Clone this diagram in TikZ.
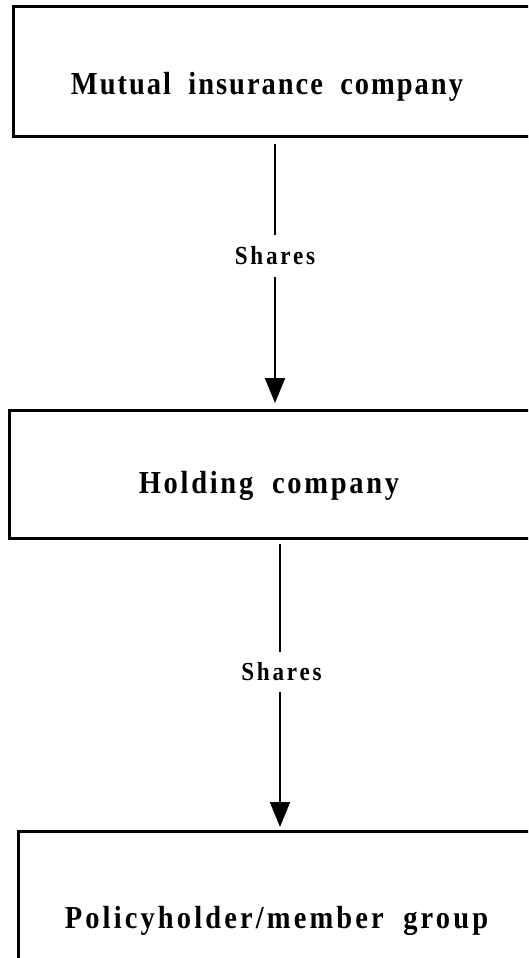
\documentclass[tikz,border=0pt]{standalone}
\usepackage{fontspec}
\setmainfont{Liberation Serif}
\newfontfamily\boxfont[LetterSpace=7,WordSpace=1.9]{Liberation Serif}
\newfontfamily\boxfontb[LetterSpace=9.6,WordSpace=1.9]{Liberation Serif}
\newfontfamily\boxfontc[LetterSpace=11,WordSpace=1.9]{Liberation Serif}
\newfontfamily\lblfont[LetterSpace=12]{Liberation Serif}
\usetikzlibrary{arrows.meta}
\newcommand{\condensed}[1]{\scalebox{0.89}[1]{#1}}
\begin{document}
\begin{tikzpicture}[x=1pt,y=-1pt,
  box/.style={draw,line width=3pt,rectangle,inner sep=0pt,outer sep=0pt,anchor=north west},
  title/.style={anchor=base,inner sep=0pt,font=\boxfont\bfseries\fontsize{32}{38}\selectfont},
  lbl/.style={inner sep=0pt,outer sep=0pt,font=\lblfont\bfseries\fontsize{26}{30}\selectfont},
  conn/.style={line width=2pt},
  tip/.style={-{Triangle[width=20pt,length=25pt]}}
]
\useasboundingbox (0,0) rectangle (528,958);
\clip (0,0) rectangle (528,958);
\fill[white] (0,0) rectangle (528,958);

\node[box,minimum width=523pt,minimum height=129.5pt] (m1) at (13.5,7) {};
\node[box,minimum width=541pt,minimum height=127.5pt] (m2) at (9.7,410.5) {};
\node[box,minimum width=524pt,minimum height=200pt] (m3) at (18,831) {};

\node[title] (t1) at (267,94.5) {\condensed{Mutual insurance company}};
\node[title,font=\boxfontb\bfseries\fontsize{32}{38}\selectfont] (t2) at (269,493) {\condensed{Holding company}};
\node[title,font=\boxfontc\bfseries\fontsize{32}{38}\selectfont] (t3) at (276.5,928) {\condensed{Policyholder/member group}};

\node[lbl,minimum height=42pt] (s1) at (275,256) {\condensed{Shares}};
\node[lbl,minimum height=40pt] (s2) at (281.5,672) {\condensed{Shares}};

\draw[conn,shorten <=7.5pt] (m1.south -| m1) -- (m1.south |- s1.north);
\draw[conn,tip,shorten >=7.5pt] (m1.south |- s1.south) -- (m1.south |- m2.north);
\draw[conn,shorten <=6pt] (m3.north |- m2.south) -- (m3.north |- s2.north);
\draw[conn,tip,shorten >=4pt] (m3.north |- s2.south) -- (m3.north);
\end{tikzpicture}
\end{document}
